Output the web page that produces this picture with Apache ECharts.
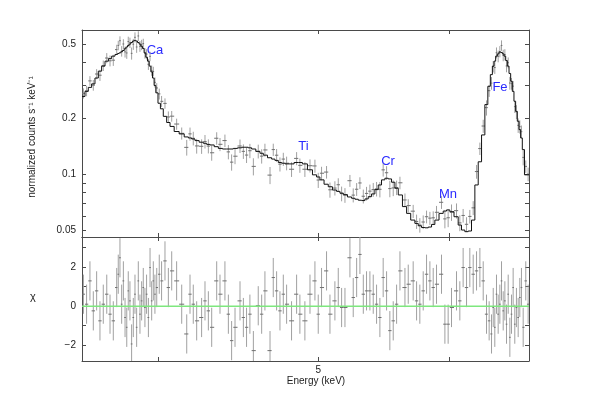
<!DOCTYPE html>
<html><head><meta charset="utf-8">
<script src="https://cdn.jsdelivr.net/npm/echarts@6/dist/echarts.min.js"></script>
<style>html,body{margin:0;padding:0;background:#fff}#c{width:598px;height:402px}</style>
</head><body><div id="c"></div>
<script>
// ---- data ----
const energy = [3.607,3.623,3.640,3.657,3.674,3.691,3.708,3.726,3.743,3.760,
3.778,3.786,3.795,3.804,3.813,3.822,3.831,3.839,3.848,3.857,
3.866,3.875,3.884,3.893,3.902,3.911,3.920,3.929,3.938,3.948,
3.957,3.966,3.975,3.984,3.994,4.008,4.021,4.040,4.059,4.078,
4.106,4.135,4.164,4.183,4.202,4.222,4.251,4.271,4.291,4.311,
4.341,4.361,4.391,4.412,4.432,4.453,4.484,4.505,4.525,4.546,
4.568,4.599,4.621,4.642,4.675,4.696,4.718,4.740,4.762,4.784,
4.817,4.851,4.873,4.907,4.942,4.976,4.999,5.022,5.057,5.081,
5.116,5.140,5.164,5.188,5.224,5.248,5.273,5.297,5.322,5.346,
5.371,5.396,5.421,5.446,5.471,5.497,5.522,5.548,5.574,5.600,
5.639,5.665,5.704,5.731,5.757,5.784,5.811,5.838,5.865,5.892,
5.933,5.961,5.988,6.016,6.058,6.086,6.114,6.143,6.171,6.200,
6.229,6.258,6.287,6.316,6.339,6.360,6.375,6.389,6.404,6.419,
6.434,6.449,6.464,6.479,6.494,6.509,6.524,6.539,6.554,6.569,
6.584,6.600,6.615,6.630,6.646,6.670,6.692];

const model = [0.262,0.279,0.293,0.306,0.329,0.358,0.381,0.405,0.418,0.431,
0.440,0.445,0.449,0.455,0.462,0.472,0.482,0.491,0.500,0.510,
0.519,0.523,0.519,0.510,0.500,0.487,0.474,0.449,0.425,0.405,
0.381,0.355,0.329,0.300,0.274,0.241,0.225,0.205,0.190,0.181,
0.170,0.165,0.159,0.157,0.155,0.152,0.149,0.147,0.145,0.144,
0.141,0.138,0.137,0.137,0.137,0.138,0.139,0.140,0.140,0.139,
0.137,0.133,0.130,0.127,0.123,0.121,0.119,0.116,0.115,0.114,
0.114,0.116,0.116,0.114,0.106,0.0996,0.097,0.0936,0.0887,0.086,
0.0826,0.0812,0.0795,0.0780,0.0758,0.0746,0.0737,0.0728,0.0725,0.0740,
0.0761,0.0787,0.0830,0.0879,0.0936,0.0955,0.0947,0.0909,0.0844,0.0777,
0.0673,0.0619,0.0570,0.0547,0.0531,0.0520,0.0518,0.0523,0.0540,0.0570,
0.0619,0.0637,0.0646,0.0632,0.0594,0.0536,0.0504,0.0494,0.0498,0.0570,
0.0879,0.117,0.163,0.237,0.297,0.343,0.381,0.405,0.431,0.443,
0.453,0.451,0.443,0.431,0.408,0.381,0.348,0.316,0.279,0.247,
0.218,0.193,0.174,0.157,0.136,0.0996,0.0996];

const chi = [0.61,0.10,1.29,-0.24,0.78,-0.75,0.10,0.61,-0.41,-0.75,
0.95,1.63,2.47,0.10,1.29,-0.58,-1.08,0.78,0.27,-1.93,
-0.58,0.61,-1.08,1.29,-0.41,0.27,0.95,-0.07,0.61,-0.58,
1.97,0.27,1.29,0.61,0.95,1.63,1.29,2.31,0.95,1.80,
1.29,0.10,-1.42,0.61,0.10,-0.75,-0.58,0.27,-0.24,-1.08,
1.29,0.61,1.29,-0.41,-1.76,-1.08,0.27,-0.58,-1.08,-0.41,
-2.27,0.02,-0.41,0.78,-2.27,1.46,0.78,-0.24,0.61,0.10,
-0.75,0.61,-0.41,-0.75,0.61,1.29,-0.41,0.95,1.80,-0.41,
0.27,0.95,-0.07,-0.07,2.47,0.44,1.46,2.64,0.61,0.78,
0.78,0.61,0.10,-0.58,1.46,0.78,-1.25,-0.75,0.10,1.80,
0.95,1.12,1.29,0.27,0.10,0.78,1.63,1.29,0.95,1.12,
1.63,-0.92,-0.92,-0.07,0.78,0.27,1.97,0.95,1.97,1.63,
1.80,1.97,1.29,-0.41,-0.75,-1.42,-0.07,-1.08,0.61,-0.41,
0.10,1.29,-0.24,0.27,-0.92,0.61,-1.59,-0.41,0.95,-0.92,
-0.07,-0.58,0.44,0.95,-1.08,1.29,0.10];

const relErr = [0.065,0.065,0.065,0.065,0.065,0.065,0.065,0.065,0.065,0.065,
0.065,0.065,0.065,0.065,0.065,0.065,0.065,0.065,0.065,0.065,
0.065,0.065,0.065,0.065,0.065,0.065,0.065,0.065,0.065,0.065,
0.065,0.065,0.065,0.065,0.065,0.075,0.075,0.075,0.075,0.075,
0.075,0.075,0.085,0.085,0.085,0.085,0.085,0.085,0.085,0.085,
0.085,0.085,0.085,0.085,0.085,0.085,0.085,0.085,0.085,0.085,
0.085,0.085,0.085,0.085,0.085,0.085,0.085,0.085,0.085,0.085,
0.085,0.085,0.085,0.085,0.085,0.09,0.09,0.09,0.09,0.09,
0.09,0.09,0.09,0.09,0.09,0.09,0.09,0.09,0.09,0.09,
0.09,0.09,0.09,0.09,0.09,0.09,0.09,0.09,0.09,0.09,
0.09,0.09,0.09,0.09,0.09,0.09,0.09,0.09,0.09,0.09,
0.09,0.10,0.10,0.10,0.10,0.10,0.10,0.10,0.10,0.10,
0.10,0.09,0.09,0.09,0.07,0.07,0.07,0.07,0.07,0.07,
0.07,0.07,0.07,0.07,0.07,0.07,0.07,0.07,0.07,0.07,
0.085,0.085,0.085,0.085,0.085,0.085,0.085];

const lineNames = ['Ca','Ti','Cr','Mn','Fe'];
const xTickVals = [4,5,6];
const xLabelVals = [5];
const yTickVals = [0.05,0.06,0.07,0.08,0.09,0.1,0.2,0.3,0.4,0.5];
const yLabelVals = [0.05,0.1,0.2,0.5];
const rTickVals = [-2,-1,0,1,2,3];
const rLabelVals = [-2,0,2];

const XMIN = 3.6, XMAX = 6.7;
const YMIN = 0.04625, YMAX = 0.595;
const RMIN = -2.8, RMAX = 3.53;

if (energy.length !== model.length || energy.length !== chi.length || energy.length !== relErr.length) {
  throw new Error('length mismatch ' + energy.length + ' ' + model.length + ' ' + chi.length + ' ' + relErr.length);
}

// ---- build tables ----
const n = energy.length;
const binRows = [], dataRows = [], resRows = [];
for (let i = 0; i < n; i++) {
  const lo = i === 0 ? XMIN : Math.sqrt(energy[i - 1] * energy[i]);
  const hi = i === n - 1 ? XMAX : Math.sqrt(energy[i] * energy[i + 1]);
  const prev = i === 0 ? model[0] : model[i - 1];
  const sig = relErr[i] * model[i];
  const d = model[i] + chi[i] * sig;
  binRows.push([energy[i], lo, hi, model[i], prev]);
  dataRows.push([energy[i], lo, hi, d, d - sig, d + sig]);
  resRows.push([energy[i], lo, hi, chi[i], chi[i] - 1, chi[i] + 1]);
}

const FONT = 'Liberation Sans, Arial, Helvetica, sans-serif';
const AX = '#4a4a4a';
const fmt = v => String(parseFloat((+v).toPrecision(3))).replace('-', '\u2212');

function xAxis(grid, pos, withLabels) {
  return {
    type: 'log', logBase: 10, gridIndex: grid, position: pos, min: XMIN, max: XMAX,
    axisLine: {show: true, onZero: false, lineStyle: {color: AX, width: 1}},
    axisTick: {show: true, inside: true, length: 4, customValues: xTickVals, lineStyle: {color: AX, width: 1}},
    axisLabel: {show: withLabels, customValues: xLabelVals, formatter: fmt, color: '#222', fontSize: 10, fontFamily: FONT, margin: 4},
    splitLine: {show: false}, minorTick: {show: false}
  };
}
function yLog(pos, withLabels) {
  return {
    type: 'log', logBase: 10, gridIndex: 0, position: pos, min: YMIN, max: YMAX,
    axisLine: {show: true, onZero: false, lineStyle: {color: AX, width: 1}},
    axisTick: {show: true, inside: true, length: 4, customValues: yTickVals, lineStyle: {color: AX, width: 1}},
    axisLabel: {show: withLabels, customValues: yLabelVals, formatter: fmt, color: '#222', fontSize: 10, fontFamily: FONT, margin: 6},
    splitLine: {show: false}, minorTick: {show: false}
  };
}
function yRes(pos, withLabels) {
  return {
    type: 'value', gridIndex: 1, position: pos, min: RMIN, max: RMAX,
    axisLine: {show: true, onZero: false, lineStyle: {color: AX, width: 1}},
    axisTick: {show: true, inside: true, length: 4, customValues: rTickVals, lineStyle: {color: AX, width: 1}},
    axisLabel: {show: withLabels, customValues: rLabelVals, formatter: fmt, color: '#222', fontSize: 10, fontFamily: FONT, margin: 6},
    splitLine: {show: false}, minorTick: {show: false}
  };
}

function crossRender(params, api) {
  const e = api.value(0), lo = api.value(1), hi = api.value(2);
  const y = api.value(3), yl = api.value(4), yh = api.value(5);
  const a = api.coord([lo, y]), b = api.coord([hi, y]);
  const c = api.coord([e, yl]), d = api.coord([e, yh]);
  return {type: 'group', children: [
    {type: 'line', shape: {x1: c[0], y1: c[1], x2: d[0], y2: d[1]}, style: {stroke: '#a0a0a0', lineWidth: 1}},
    {type: 'line', shape: {x1: a[0], y1: a[1], x2: b[0], y2: b[1]}, style: {stroke: '#707070', lineWidth: 1}}
  ]};
}
function modelRender(params, api) {
  const lo = api.value(1), hi = api.value(2), m = api.value(3), p = api.value(4);
  const pts = [api.coord([lo, p]), api.coord([lo, m]), api.coord([hi, m])];
  return {type: 'polyline', shape: {points: pts}, style: {stroke: '#111', lineWidth: 1, fill: null}};
}

const chart = echarts.init(document.getElementById('c'), null, {renderer: 'canvas'});
const labelStyle = (t, x, y) => ({type: 'text', x: x, y: y, style: {text: t, fill: '#2a2aff', fontSize: 13, fontFamily: FONT, align: 'center', verticalAlign: 'middle'}});

chart.setOption({
  animation: false,
  backgroundColor: '#fff',
  grid: [
    {left: 82, top: 30, width: 447, height: 207},
    {left: 82, top: 237, width: 447, height: 124}
  ],
  xAxis: [xAxis(0, 'bottom', false), xAxis(0, 'top', false), xAxis(1, 'bottom', true), xAxis(1, 'top', false)],
  yAxis: [yLog('left', true), yLog('right', false), yRes('left', true), yRes('right', false)],
  series: [
    {type: 'custom', name: 'data', xAxisIndex: 0, yAxisIndex: 0, clip: true, renderItem: crossRender, data: dataRows, z: 2},
    {type: 'custom', name: 'model', xAxisIndex: 0, yAxisIndex: 0, clip: true, renderItem: modelRender, data: binRows, z: 3},
    {type: 'custom', name: 'residuals', xAxisIndex: 2, yAxisIndex: 2, clip: true, renderItem: crossRender, data: resRows, z: 2},
    {type: 'line', name: 'zero', xAxisIndex: 2, yAxisIndex: 2, data: [[XMIN, 0], [XMAX, 0]], symbol: 'none',
     lineStyle: {color: '#7ee87e', width: 1.5}, z: 4, silent: true}
  ],
  graphic: [
    {type: 'text', x: 32, y: 137, rotation: Math.PI / 2,
     style: {text: 'normalized counts s\u207B\u00B9 keV\u207B\u00B9', fill: '#222', fontSize: 10, fontFamily: FONT, align: 'center', verticalAlign: 'middle'}},
    {type: 'text', x: 33, y: 297, style: {text: '\u03C7', fill: '#222', fontSize: 11, fontFamily: FONT, align: 'center', verticalAlign: 'middle'}},
    {type: 'text', x: 316, y: 381, style: {text: 'Energy (keV)', fill: '#222', fontSize: 10, fontFamily: FONT, align: 'center', verticalAlign: 'middle'}},
    labelStyle(lineNames[0], 155, 50),
    labelStyle(lineNames[1], 303.5, 146),
    labelStyle(lineNames[2], 388, 161.5),
    labelStyle(lineNames[3], 448, 194),
    labelStyle(lineNames[4], 500, 87.5)
  ]
});
</script>
</body></html>
